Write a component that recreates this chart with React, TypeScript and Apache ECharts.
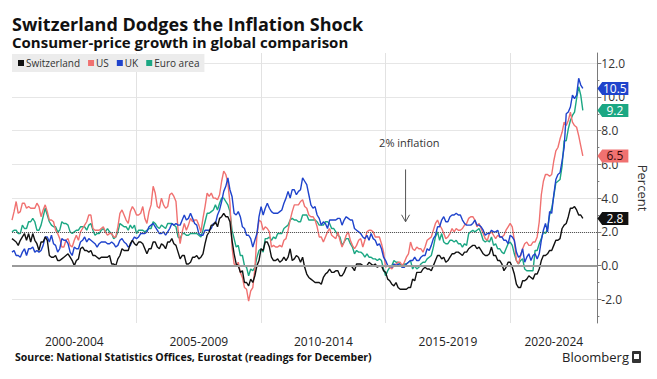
import React, { useEffect, useRef } from 'react';
import * as echarts from 'echarts';

// Monthly consumer-price growth, % y/y, January 2000 .. December 2022
const START_YEAR = 2000;

const SWITZERLAND = [
  1.6, 1.5, 1.4, 1.2, 1.5, 1.7, 1.9, 1.5, 1.9, 1.4, 1.9, 1.5,
  1.3, 0.9, 1.4, 1.4, 1.7, 1.5, 0.6, 0.5, 0.5, 0.6, 0.3, 0.3,
  0.4, 0.5, 0.6, 0.7, 0.5, 0.3, 0.0, 0.3, 0.4, 1.0, 1.1, 0.9,
  0.9, 0.8, 0.9, 0.6, 0.6, 0.5, 0.4, 0.5, 0.5, 0.5, 0.5, 0.6,
  0.1, 0.1, 0.0, 0.4, 0.6, 1.0, 0.9, 0.9, 0.9, 1.3, 1.5, 1.3,
  1.2, 1.4, 1.4, 1.3, 1.0, 0.7, 1.0, 1.0, 1.4, 1.4, 1.1, 1.0,
  1.3, 1.2, 1.0, 1.4, 1.4, 1.6, 1.3, 1.2, 0.8, 0.4, 0.6, 0.6,
  0.1, 0.1, 0.2, 0.5, 0.5, 0.6, 0.4, 0.5, 0.7, 1.3, 1.8, 2.0,
  2.4, 2.4, 2.6, 2.3, 2.8, 2.9, 3.1, 2.9, 2.9, 2.6, 1.5, 0.7,
  0.1, 0.0, -0.4, -0.3, -1.0, -1.0, -1.2, -0.8, -1.0, -0.6, 0.0, 0.3,
  1.0, 0.9, 1.4, 1.4, 1.1, 0.5, 0.3, 0.3, 0.4, 0.2, 0.3, 0.5,
  0.3, 0.5, 1.0, 0.3, 0.4, 0.6, 0.5, 0.2, 0.5, -0.1, -0.5, -0.7,
  -0.8, -0.9, -1.0, -1.0, -1.0, -1.1, -0.7, -0.5, -0.4, -0.2, -0.4, -0.4,
  -0.3, -0.3, -0.6, -0.6, -0.4, -0.1, 0.0, 0.0, -0.1, -0.3, 0.1, 0.1,
  0.1, 0.0, 0.0, 0.0, 0.2, 0.1, 0.0, 0.1, -0.1, 0.0, 0.0, -0.3,
  -0.4, -0.8, -0.9, -1.1, -1.2, -1.0, -1.3, -1.4, -1.4, -1.4, -1.4, -1.3,
  -1.3, -0.8, -0.9, -0.4, -0.4, -0.4, -0.2, -0.1, -0.2, -0.2, -0.3, 0.0,
  0.3, 0.6, 0.6, 0.4, 0.5, 0.2, 0.3, 0.5, 0.7, 0.7, 0.8, 0.8,
  0.7, 0.6, 0.8, 0.8, 1.0, 1.1, 1.2, 1.2, 1.0, 1.1, 0.9, 0.7,
  0.6, 0.6, 0.7, 1.1, 0.6, 0.6, 0.3, 0.3, 0.1, -0.3, -0.1, 0.2,
  0.2, -0.1, -0.5, -1.1, -1.3, -1.3, -0.9, -0.9, -0.8, -0.6, -0.7, -0.8,
  -0.5, -0.5, -0.2, 0.3, 0.6, 0.6, 0.7, 0.9, 0.9, 1.2, 1.5, 1.5,
  1.6, 2.2, 2.4, 2.5, 2.9, 3.4, 3.4, 3.5, 3.3, 3.0, 3.0, 2.8,
];

const US = [
  2.7, 3.2, 3.8, 3.1, 3.2, 3.7, 3.7, 3.4, 3.5, 3.4, 3.4, 3.4,
  3.7, 3.5, 2.9, 3.3, 3.6, 3.2, 2.7, 2.7, 2.6, 2.1, 1.9, 1.6,
  1.1, 1.1, 1.5, 1.6, 1.2, 1.1, 1.5, 1.8, 1.5, 2.0, 2.2, 2.4,
  2.6, 3.0, 3.0, 2.2, 2.1, 2.1, 2.1, 2.2, 2.3, 2.0, 1.8, 1.9,
  1.9, 1.7, 1.7, 2.3, 3.1, 3.3, 3.0, 2.7, 2.5, 3.2, 3.5, 3.3,
  3.0, 3.0, 3.1, 3.5, 2.8, 2.5, 3.2, 3.6, 4.7, 4.3, 3.5, 3.4,
  4.0, 3.6, 3.4, 3.5, 4.2, 4.3, 4.1, 3.8, 2.1, 1.3, 2.0, 2.5,
  2.1, 2.4, 2.8, 2.6, 2.7, 2.7, 2.4, 2.0, 2.8, 3.5, 4.3, 4.1,
  4.3, 4.0, 4.0, 3.9, 4.2, 5.0, 5.6, 5.4, 4.9, 3.7, 1.1, 0.1,
  0.0, 0.2, -0.4, -0.7, -1.3, -1.4, -2.1, -1.5, -1.3, -0.2, 1.8, 2.7,
  2.6, 2.1, 2.3, 2.2, 2.0, 1.1, 1.2, 1.1, 1.1, 1.2, 1.1, 1.5,
  1.6, 2.1, 2.7, 3.2, 3.6, 3.6, 3.6, 3.8, 3.9, 3.5, 3.4, 3.0,
  2.9, 2.9, 2.7, 2.3, 1.7, 1.7, 1.4, 1.7, 2.0, 2.2, 1.8, 1.7,
  1.6, 2.0, 1.5, 1.1, 1.4, 1.8, 2.0, 1.5, 1.2, 1.0, 1.2, 1.5,
  1.6, 1.1, 1.5, 2.0, 2.1, 2.1, 2.0, 1.7, 1.7, 1.7, 1.3, 0.8,
  -0.1, 0.0, -0.1, -0.2, 0.0, 0.1, 0.2, 0.2, 0.0, 0.2, 0.5, 0.7,
  1.4, 1.0, 0.9, 1.1, 1.0, 1.0, 0.8, 1.1, 1.5, 1.6, 1.7, 2.1,
  2.5, 2.7, 2.4, 2.2, 1.9, 1.6, 1.7, 1.9, 2.2, 2.0, 2.2, 2.1,
  2.1, 2.2, 2.4, 2.5, 2.8, 2.9, 2.9, 2.7, 2.3, 2.5, 2.2, 1.9,
  1.6, 1.5, 1.9, 2.0, 1.8, 1.6, 1.8, 1.7, 1.7, 1.8, 2.1, 2.3,
  2.5, 2.3, 1.5, 0.3, 0.1, 0.6, 1.0, 1.3, 1.4, 1.2, 1.2, 1.4,
  1.4, 1.7, 2.6, 4.2, 5.0, 5.4, 5.4, 5.3, 5.4, 6.2, 6.8, 7.0,
  7.5, 7.9, 8.5, 8.3, 8.6, 9.1, 8.5, 8.3, 8.2, 7.7, 7.1, 6.5,
];

const UK = [
  0.8, 0.9, 0.6, 0.6, 0.5, 0.8, 1.0, 0.6, 1.0, 1.0, 1.1, 0.8,
  0.9, 0.8, 0.9, 1.2, 1.7, 1.7, 1.4, 1.8, 1.3, 1.2, 0.8, 1.0,
  1.6, 1.5, 1.5, 1.3, 0.8, 0.6, 1.1, 1.0, 1.0, 1.4, 1.5, 1.7,
  1.4, 1.6, 1.5, 1.4, 1.3, 1.1, 1.3, 1.4, 1.4, 1.4, 1.3, 1.3,
  1.4, 1.3, 1.1, 1.2, 1.5, 1.6, 1.4, 1.3, 1.1, 1.2, 1.5, 1.7,
  1.6, 1.7, 1.9, 1.9, 1.9, 2.0, 2.3, 2.4, 2.5, 2.3, 2.1, 1.9,
  1.9, 2.0, 1.8, 2.0, 2.2, 2.5, 2.4, 2.5, 2.4, 2.4, 2.7, 3.0,
  2.7, 2.8, 3.1, 2.8, 2.5, 2.4, 1.9, 1.8, 1.8, 2.1, 2.1, 2.1,
  2.2, 2.5, 2.5, 3.0, 3.3, 3.8, 4.4, 4.7, 5.2, 4.5, 4.1, 3.1,
  3.0, 3.2, 2.9, 2.3, 2.2, 1.8, 1.8, 1.6, 1.1, 1.5, 1.9, 2.9,
  3.5, 3.0, 3.4, 3.7, 3.4, 3.2, 3.1, 3.1, 3.1, 3.2, 3.3, 3.7,
  4.0, 4.4, 4.0, 4.5, 4.5, 4.2, 4.4, 4.5, 5.2, 5.0, 4.8, 4.2,
  3.6, 3.4, 3.5, 3.0, 2.8, 2.4, 2.6, 2.5, 2.2, 2.7, 2.7, 2.7,
  2.7, 2.8, 2.8, 2.4, 2.7, 2.9, 2.8, 2.7, 2.7, 2.2, 2.1, 2.0,
  1.9, 1.7, 1.6, 1.8, 1.5, 1.9, 1.6, 1.5, 1.2, 1.3, 1.0, 0.5,
  0.3, 0.0, 0.0, -0.1, 0.1, 0.0, 0.1, 0.0, -0.1, -0.1, 0.1, 0.2,
  0.3, 0.3, 0.5, 0.3, 0.3, 0.5, 0.6, 0.6, 1.0, 0.9, 1.2, 1.6,
  1.8, 2.3, 2.3, 2.7, 2.9, 2.6, 2.6, 2.9, 3.0, 3.0, 3.1, 3.0,
  3.0, 2.7, 2.5, 2.4, 2.4, 2.4, 2.5, 2.7, 2.4, 2.4, 2.3, 2.1,
  1.8, 1.9, 1.9, 2.1, 2.0, 2.0, 2.1, 1.7, 1.7, 1.5, 1.5, 1.3,
  1.8, 1.7, 1.5, 0.8, 0.5, 0.6, 1.0, 0.2, 0.5, 0.7, 0.3, 0.6,
  0.7, 0.4, 0.7, 1.5, 2.1, 2.5, 2.0, 3.2, 3.1, 4.2, 5.1, 5.4,
  5.5, 6.2, 7.0, 9.0, 9.1, 9.4, 10.1, 9.9, 10.1, 11.1, 10.7, 10.5,
];

const EURO_AREA = [
  2.0, 2.1, 2.1, 1.9, 1.9, 2.4, 2.2, 2.2, 2.6, 2.6, 2.8, 2.6,
  2.1, 2.1, 2.4, 2.9, 3.4, 3.0, 2.6, 2.4, 2.3, 2.3, 2.0, 2.1,
  2.6, 2.5, 2.5, 2.4, 2.0, 1.9, 2.0, 2.1, 2.1, 2.3, 2.3, 2.3,
  2.1, 2.4, 2.5, 2.1, 1.8, 1.9, 1.9, 2.1, 2.2, 2.0, 2.2, 2.0,
  1.9, 1.6, 1.7, 2.0, 2.5, 2.4, 2.3, 2.3, 2.1, 2.4, 2.2, 2.4,
  1.9, 2.1, 2.1, 2.1, 2.0, 2.1, 2.2, 2.2, 2.6, 2.5, 2.3, 2.2,
  2.4, 2.3, 2.2, 2.5, 2.5, 2.5, 2.4, 2.3, 1.7, 1.6, 1.9, 1.9,
  1.8, 1.8, 1.9, 1.9, 1.9, 1.9, 1.8, 1.7, 2.1, 2.6, 3.1, 3.1,
  3.2, 3.3, 3.6, 3.3, 3.7, 4.0, 4.0, 3.8, 3.6, 3.2, 2.1, 1.6,
  1.1, 1.2, 0.6, 0.6, 0.0, -0.1, -0.6, -0.2, -0.3, -0.1, 0.5, 0.9,
  1.0, 0.8, 1.6, 1.6, 1.7, 1.5, 1.7, 1.6, 1.9, 1.9, 1.9, 2.2,
  2.3, 2.4, 2.7, 2.8, 2.7, 2.7, 2.6, 2.6, 3.0, 3.0, 3.0, 2.7,
  2.7, 2.7, 2.7, 2.6, 2.4, 2.4, 2.4, 2.6, 2.6, 2.5, 2.2, 2.2,
  2.0, 1.8, 1.7, 1.2, 1.4, 1.6, 1.6, 1.3, 1.1, 0.7, 0.9, 0.8,
  0.8, 0.7, 0.5, 0.7, 0.5, 0.5, 0.4, 0.4, 0.3, 0.4, 0.3, -0.2,
  -0.6, -0.3, -0.1, 0.0, 0.3, 0.2, 0.2, 0.1, -0.1, 0.1, 0.1, 0.2,
  0.3, -0.2, 0.0, -0.2, -0.1, 0.1, 0.2, 0.2, 0.4, 0.5, 0.6, 1.1,
  1.7, 2.0, 1.5, 1.9, 1.4, 1.3, 1.3, 1.5, 1.5, 1.4, 1.5, 1.3,
  1.3, 1.1, 1.3, 1.2, 1.9, 2.0, 2.1, 2.0, 2.1, 2.2, 1.9, 1.5,
  1.4, 1.5, 1.4, 1.7, 1.2, 1.3, 1.0, 1.0, 0.8, 0.7, 1.0, 1.3,
  1.4, 1.2, 0.7, 0.3, 0.1, 0.3, 0.4, -0.2, -0.3, -0.3, -0.3, -0.3,
  0.9, 0.9, 1.3, 1.6, 2.0, 1.9, 2.2, 3.0, 3.4, 4.1, 4.9, 5.0,
  5.1, 5.9, 7.4, 7.4, 8.1, 8.6, 8.9, 9.1, 9.9, 10.6, 10.1, 9.2,
];

const SERIES_NAMES = ['Switzerland', 'US', 'UK', 'Euro area'];
const PERIOD_STARTS = [2000, 2005, 2010, 2015, 2020];
const PERIOD_LABELS = ['2000-2004', '2005-2009', '2010-2014', '2015-2019', '2020-2024'];
const Y_TICKS = [-2, 0, 2, 4, 6, 8, 10, 12];
const Y_MINOR_TICKS = [-3, -1, 1, 3, 5, 7, 9, 11];
const INFLATION_TARGET = 2;
const ANNOTATION_TEXT = '2% inflation';
const ANNOTATION_X = 2015.8;
const ANNOTATION_TEXT_X = 2015.95;
const ANNOTATION_TOP = 5.7;
const ANNOTATION_BOTTOM = 2.6;
const ANNOTATION_TEXT_Y = 7.3;

const TITLE = 'Switzerland Dodges the Inflation Shock';
const SUBTITLE = 'Consumer-price growth in global comparison';
const SOURCE = 'Source: National Statistics Offices, Eurostat (readings for December)';

const X_MIN = 2000;
const X_MAX = 2023.5;
const Y_MIN = -3.4;
const Y_MAX = 12.6;

const FONT = "'Open Sans', 'DejaVu Sans', sans-serif";
const COLORS: Record<string, string> = {
  Switzerland: '#111111',
  US: '#f07170',
  UK: '#1f43cc',
  'Euro area': '#1ba783',
};
const TAG_TEXT: Record<string, string> = {
  Switzerland: '#ffffff',
  US: '#3a0a0a',
  UK: '#ffffff',
  'Euro area': '#ffffff',
};

const SERIES_VALUES: Record<string, number[]> = {
  Switzerland: SWITZERLAND,
  US: US,
  UK: UK,
  'Euro area': EURO_AREA,
};

const toPoints = (values: number[]) =>
  values.map((v, i) => [START_YEAR + i / 12, v]);

export default function App() {
  const ref = useRef<HTMLDivElement>(null);

  useEffect(() => {
    if (!ref.current) return;
    const chart = echarts.init(ref.current, null, { renderer: 'svg' });

    const periodCenters = PERIOD_STARTS.map((s) => (s + Math.min(s + 5, X_MAX)) / 2);
    const labelFor = (v: number) => {
      let best = 0;
      periodCenters.forEach((c, i) => {
        if (Math.abs(c - v) < Math.abs(periodCenters[best] - v)) best = i;
      });
      return PERIOD_LABELS[best];
    };

    const drawOrder = ['Euro area', 'US', 'UK', 'Switzerland'];

    const series: any[] = drawOrder.map((name) => {
      const values = SERIES_VALUES[name];
      const last = values[values.length - 1];
      const s: any = {
        name,
        type: 'line',
        data: toPoints(values),
        showSymbol: false,
        symbol: 'none',
        color: COLORS[name],
        lineStyle: { color: COLORS[name], width: 1.4 },
        itemStyle: { color: COLORS[name] },
        markPoint: {
          silent: true,
          symbol: 'path://M0,6.5 L5,0 L32,0 L32,13 L5,13 Z',
          symbolSize: [31, 13],
          symbolOffset: [15.5, 0],
          itemStyle: { color: COLORS[name] },
          label: {
            show: true,
            position: 'inside',
            offset: [2, 0],
            color: TAG_TEXT[name],
            fontSize: 12,
            fontFamily: FONT,
            formatter: () => last.toFixed(1),
          },
          data: [{ coord: [X_MAX, last], value: last }],
        },
      };
      if (name === 'Switzerland') {
        s.markLine = {
          silent: true,
          symbol: 'none',
          label: { show: false },
          data: [
            { yAxis: 0, lineStyle: { color: '#9a9a9a', width: 2, type: 'solid' } },
            { yAxis: INFLATION_TARGET, lineStyle: { color: '#555555', width: 1, type: 'dotted' } },
          ],
        };
      }
      return s;
    });

    const option: any = {
      animation: false,
      backgroundColor: '#ffffff',
      textStyle: { fontFamily: FONT },
      grid: { left: 12, right: 57, top: 53, bottom: 56, containLabel: false },
      legend: {
        left: 12,
        top: 54,
        backgroundColor: '#ececec',
        padding: [4, 5, 4, 6],
        itemWidth: 6,
        itemHeight: 6,
        itemGap: 8,
        icon: 'rect',
        textStyle: { fontSize: 10, color: '#333333', fontFamily: FONT, padding: [0, 0, 0, -3] },
        data: SERIES_NAMES,
      },
      xAxis: {
        type: 'value',
        min: X_MIN,
        max: X_MAX,
        interval: 5,
        axisLine: { show: false },
        axisTick: { show: false },
        splitLine: {
          show: true,
          showMinLine: false,
          showMaxLine: false,
          lineStyle: { color: '#e2e2e2', width: 1 },
        },
        axisLabel: {
          customValues: periodCenters,
          formatter: (v: number) => labelFor(v),
          margin: 12,
          color: '#222222',
          fontSize: 12,
          fontFamily: FONT,
        },
      },
      yAxis: [
        {
          type: 'value',
          position: 'right',
          min: Y_MIN,
          max: Y_MAX,
          axisLine: { show: true, lineStyle: { color: '#7a7a7a', width: 1 } },
          axisTick: { show: true, customValues: Y_TICKS, length: 4, lineStyle: { color: '#7a7a7a' } },
          axisLabel: {
            customValues: Y_TICKS,
            formatter: (v: number) => v.toFixed(1),
            margin: 4,
            color: '#333333',
            fontSize: 12,
            fontFamily: FONT,
          },
          splitLine: { show: true, lineStyle: { color: '#e6e6e6', width: 1 } },
          name: 'Percent',
          nameLocation: 'middle',
          nameRotate: -90,
          nameGap: 30,
          nameTextStyle: { fontSize: 13, color: '#333333', fontFamily: FONT },
        },
        {
          type: 'value',
          position: 'right',
          min: Y_MIN,
          max: Y_MAX,
          axisLine: { show: false },
          axisTick: { show: true, customValues: Y_MINOR_TICKS, length: 2, lineStyle: { color: '#7a7a7a' } },
          axisLabel: { show: false },
          splitLine: { show: false },
        },
      ],
      series,
    };

    chart.setOption(option);

    const top = chart.convertToPixel({ gridIndex: 0 }, [ANNOTATION_X, ANNOTATION_TOP]) as number[];
    const bottom = chart.convertToPixel({ gridIndex: 0 }, [ANNOTATION_X, ANNOTATION_BOTTOM]) as number[];
    const textPos = chart.convertToPixel({ gridIndex: 0 }, [ANNOTATION_TEXT_X, ANNOTATION_TEXT_Y]) as number[];

    chart.setOption({
      graphic: [
        {
          type: 'text',
          x: 12,
          y: 24,
          style: { text: TITLE, fontSize: 18, fontWeight: 'bold', fontFamily: FONT, fill: '#111111', verticalAlign: 'middle' },
        },
        {
          type: 'text',
          x: 12,
          y: 42,
          style: { text: SUBTITLE, fontSize: 15, fontWeight: 'bold', fontFamily: FONT, fill: '#111111', verticalAlign: 'middle' },
        },
        {
          type: 'line',
          shape: { x1: top[0], y1: top[1], x2: bottom[0], y2: bottom[1] },
          style: { stroke: '#555555', lineWidth: 1 },
          silent: true,
        },
        {
          type: 'polyline',
          shape: { points: [[bottom[0] - 4, bottom[1] - 7], [bottom[0], bottom[1]], [bottom[0] + 4, bottom[1] - 7]] },
          style: { stroke: '#555555', lineWidth: 1, fill: 'none' },
          silent: true,
        },
        {
          type: 'text',
          x: textPos[0],
          y: textPos[1],
          style: { text: ANNOTATION_TEXT, fontSize: 11, fontFamily: FONT, fill: '#333333', align: 'center', verticalAlign: 'middle' },
        },
        {
          type: 'text',
          x: 15,
          y: 357,
          style: { text: SOURCE, fontSize: 10.5, fontWeight: 'bold', fontFamily: FONT, fill: '#111111', verticalAlign: 'middle' },
        },
        {
          type: 'text',
          x: 629,
          y: 357,
          style: { text: 'Bloomberg', fontSize: 13, fontFamily: FONT, fill: '#222222', align: 'right', verticalAlign: 'middle' },
        },
        {
          type: 'rect',
          shape: { x: 632, y: 351, width: 9, height: 12, r: 1 },
          style: { fill: '#333333' },
        },
        {
          type: 'rect',
          shape: { x: 634, y: 354, width: 5, height: 5 },
          style: { fill: '#ffffff' },
        },
      ],
    });

    return () => {
      chart.dispose();
    };
  }, []);

  return (
    <div
      ref={ref}
      style={{ position: 'fixed', left: 0, top: 0, width: 657, height: 379, background: '#ffffff' }}
    />
  );
}
